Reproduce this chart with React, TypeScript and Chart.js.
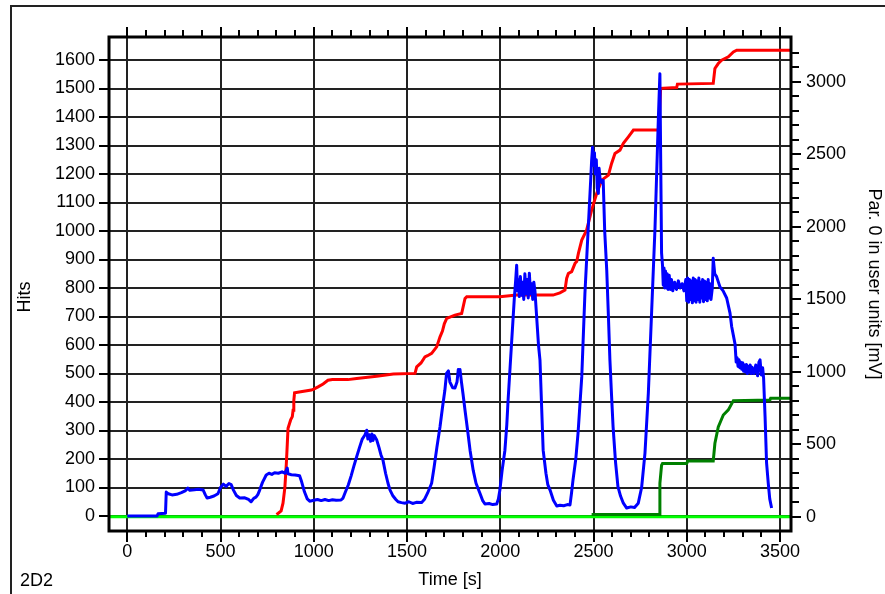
import React, { useEffect, useRef } from "react";
import { Chart, registerables } from "chart.js";

Chart.register(...registerables);

// ---------- data ----------
const blueTime = [
  0, 160, 165, 205, 209, 220, 240, 265, 290, 310, 325, 335, 360, 380, 407, 418, 428, 445, 465, 486,
  500, 515, 530, 545, 557, 570, 585, 603, 630, 650, 664, 678, 690, 700, 710, 725, 745, 760, 775, 790,
  810, 830, 845, 858, 862, 880, 900, 924, 935, 950, 965, 978, 1000, 1020, 1040, 1060, 1080, 1100, 1120, 1146,
  1157, 1170, 1185, 1200, 1215, 1230, 1245, 1260, 1275, 1284, 1290, 1298, 1305, 1312, 1318, 1325, 1337, 1350, 1360, 1371,
  1385, 1398, 1409, 1425, 1440, 1452, 1470, 1490, 1510, 1530, 1550, 1578, 1595, 1610, 1632, 1645, 1660, 1677, 1690, 1703,
  1712, 1722, 1730, 1745, 1757, 1768, 1775, 1780, 1784, 1792, 1800, 1811, 1825, 1838, 1855, 1870, 1891, 1905, 1918, 1940,
  1960, 1981, 1990, 1998, 2010, 2025, 2035, 2042, 2060, 2075, 2083, 2088, 2092, 2097, 2102, 2108, 2114, 2120, 2126, 2132,
  2138, 2145, 2150, 2156, 2162, 2168, 2174, 2180, 2186, 2195, 2205, 2213, 2222, 2230, 2245, 2255, 2267, 2285, 2303, 2320,
  2340, 2360, 2374, 2382, 2390, 2405, 2417, 2437, 2454, 2472, 2485, 2490, 2495, 2500, 2505, 2510, 2515, 2520, 2526, 2530,
  2535, 2545, 2552, 2560, 2571, 2580, 2588, 2597, 2605, 2618, 2631, 2645, 2660, 2678, 2700, 2720, 2740, 2758, 2776, 2794,
  2812, 2830, 2842, 2848, 2856, 2861, 2865, 2870, 2874, 2878, 2882, 2886, 2890, 2895, 2900, 2906, 2912, 2918, 2925, 2935,
  2945, 2955, 2965, 2975, 2985, 2995, 3000, 3005, 3010, 3015, 3020, 3025, 3030, 3035, 3040, 3045, 3050, 3055, 3060, 3065,
  3070, 3075, 3080, 3085, 3090, 3095, 3100, 3105, 3110, 3115, 3120, 3125, 3130, 3137, 3142, 3150, 3160, 3178, 3195, 3214,
  3232, 3241, 3259, 3265, 3270, 3275, 3280, 3285, 3290, 3295, 3300, 3305, 3310, 3315, 3320, 3325, 3330, 3335, 3340, 3345,
  3350, 3360, 3370, 3380, 3387, 3393, 3400, 3407, 3412, 3420, 3428, 3437, 3445, 3455,
];
const blueHits = [
  0, 0, 8, 10, 84, 78, 74, 76, 82, 88, 98, 90, 92, 94, 91, 75, 63, 66, 70, 78,
  100, 112, 104, 114, 110, 90, 72, 63, 64, 58, 50, 62, 66, 75, 91, 118, 144, 150, 146, 152,
  150, 155, 150, 168, 148, 145, 144, 141, 120, 85, 60, 52, 55, 58, 54, 58, 54, 57, 55, 56,
  63, 85, 109, 140, 175, 208, 240, 270, 285, 301, 270, 285, 262, 288, 265, 282, 268, 240, 215, 196,
  150, 115, 91, 70, 58, 50, 47, 45, 50, 44, 48, 47, 60, 80, 115, 170, 240, 313, 380, 441,
  500, 509, 470, 450, 449, 470, 514, 495, 514, 470, 430, 371, 300, 231, 160, 115, 80, 55, 42, 44,
  40, 42, 60, 91, 160, 231, 320, 407, 600, 760, 830, 880, 790, 830, 770, 840, 775, 820, 760, 850,
  780, 830, 765, 852, 780, 815, 760, 820, 790, 700, 600, 547, 380, 231, 150, 110, 91, 55, 35, 38,
  36, 40, 39, 80, 126, 200, 290, 488, 781, 1014, 1180, 1248, 1294, 1230, 1275, 1200, 1250, 1150, 1132, 1220,
  1185, 1170, 1178, 1000, 862, 700, 547, 420, 313, 190, 103, 70, 45, 28, 32, 30, 45, 100, 221, 431,
  722, 1014, 1272, 1400, 1552, 1200, 922, 880, 810, 870, 800, 860, 800, 850, 795, 845, 795, 830, 790, 820,
  795, 825, 800, 815, 790, 830, 755, 835, 750, 830, 760, 825, 748, 835, 755, 830, 750, 825, 760, 835,
  750, 820, 765, 830, 752, 825, 760, 820, 755, 830, 765, 815, 760, 800, 904, 850, 840, 804, 790, 765,
  712, 664, 603, 540, 555, 525, 548, 520, 540, 515, 538, 508, 530, 505, 532, 500, 525, 505, 530, 500,
  522, 500, 530, 492, 540, 548, 495, 520, 485, 348, 186, 115, 60, 28,
];

const redTime = [
  800, 808, 825, 835, 845, 853, 858, 862, 876, 885, 889, 893, 897, 930, 987, 1000, 1023, 1050, 1076, 1100,
  1183, 1230, 1337, 1427, 1543, 1552, 1575, 1596, 1610, 1632, 1659, 1677, 1690, 1700, 1713, 1757, 1793, 1811, 1820, 1998,
  2088, 2283, 2320, 2347, 2356, 2365, 2383, 2401, 2410, 2419, 2437, 2463, 2490, 2517, 2544, 2580, 2597, 2615, 2642, 2660,
  2687, 2714, 2850, 2860, 2946, 2950, 3142, 3151, 3169, 3187, 3223, 3250, 3268, 3560,
];
const redMv = [
  15, 22, 40, 93, 200, 367, 500, 609, 667, 690, 734, 800, 854, 861, 873, 880, 895, 915, 941, 945,
  945, 953, 969, 983, 988, 1033, 1060, 1102, 1110, 1126, 1171, 1240, 1280, 1330, 1367, 1390, 1401, 1505, 1516, 1516,
  1528, 1528, 1543, 1562, 1643, 1677, 1690, 1747, 1760, 1816, 1907, 1976, 2114, 2229, 2321, 2355, 2436, 2505, 2528, 2574,
  2619, 2666, 2666, 2954, 2960, 2983, 2988, 3091, 3125, 3148, 3171, 3205, 3217, 3217,
];

const greenTime = [2490, 2853, 2856, 2865, 2870, 3000, 3005, 3142, 3151, 3169, 3196, 3223, 3250, 3446, 3450, 3560];
const greenMv = [15, 15, 229, 355, 367, 367, 384, 384, 506, 619, 701, 736, 800, 805, 817, 817];

const baseTime = [-100, 3560];
const baseMv = [0, 0];

const xTickValues = [0, 500, 1000, 1500, 2000, 2500, 3000, 3500];
const leftTickValues = [0, 100, 200, 300, 400, 500, 600, 700, 800, 900, 1000, 1100, 1200, 1300, 1400, 1500, 1600];
const rightTickValues = [0, 500, 1000, 1500, 2000, 2500, 3000];

const toPoints = (xs: number[], ys: number[]) => xs.map((x, i) => ({ x, y: ys[i] }));

const FONT = "'Liberation Sans', Arial, sans-serif";

const decorPlugin = {
  id: "decor",
  beforeDraw(chart: any) {
    const { ctx, width, height } = chart;
    ctx.save();
    ctx.fillStyle = "#ffffff";
    ctx.fillRect(0, 0, width, height);
    ctx.strokeStyle = "#222";
    ctx.lineWidth = 2;
    ctx.beginPath();
    ctx.moveTo(11, height + 5);
    ctx.lineTo(11, 6);
    ctx.lineTo(width + 5, 6);
    ctx.stroke();
    ctx.restore();
  },
  afterDraw(chart: any) {
    const { ctx, chartArea: a, scales } = chart;
    ctx.save();
    ctx.strokeStyle = "#000";
    ctx.lineWidth = 2;
    ctx.beginPath();
    // left ticks
    for (const v of leftTickValues) {
      const y = Math.round(scales.y.getPixelForValue(v));
      ctx.moveTo(a.left - 10, y);
      ctx.lineTo(a.left, y);
    }
    // top / bottom ticks every 100
    for (let v = 0; v <= 3500; v += 100) {
      const x = Math.round(scales.x.getPixelForValue(v));
      const major = v % 500 === 0;
      ctx.moveTo(x, a.bottom);
      ctx.lineTo(x, a.bottom + (major ? 11 : 6));
      ctx.moveTo(x, a.top);
      ctx.lineTo(x, a.top - (major ? 10 : 7));
    }
    // right ticks every 100
    for (let v = 0; v <= 3200; v += 100) {
      const y = Math.round(scales.y1.getPixelForValue(v));
      const major = v % 500 === 0;
      ctx.moveTo(a.right, y);
      ctx.lineTo(a.right + (major ? 10 : 8), y);
    }
    ctx.stroke();
    // frame
    ctx.lineWidth = 3;
    ctx.strokeRect(a.left, a.top, a.right - a.left, a.bottom - a.top);
    // texts
    ctx.fillStyle = "#000";
    ctx.font = `18px ${FONT}`;
    ctx.textBaseline = "middle";
    ctx.textAlign = "left";
    ctx.fillText("2D2", 20, 581);
    // left axis title
    ctx.save();
    ctx.translate(25, 297);
    ctx.rotate(-Math.PI / 2);
    ctx.textAlign = "center";
    ctx.fillText("Hits", 0, 0);
    ctx.restore();
    ctx.restore();
  },
};

export default function App() {
  const ref = useRef<HTMLCanvasElement | null>(null);
  useEffect(() => {
    if (!ref.current) return;
    const tickFont = { family: FONT, size: 18 };
    const chart = new Chart(ref.current, {
      type: "line",
      data: {
        datasets: [
          {
            label: "Hits",
            data: toPoints(blueTime, blueHits),
            borderColor: "#0000ff",
            borderWidth: 3,
            pointRadius: 0,
            yAxisID: "y",
            borderJoinStyle: "round",
          },
          {
            label: "Par red",
            data: toPoints(redTime, redMv),
            borderColor: "#ff0000",
            borderWidth: 3,
            pointRadius: 0,
            yAxisID: "y1",
          },
          {
            label: "Par green",
            data: toPoints(greenTime, greenMv),
            borderColor: "#008000",
            borderWidth: 3,
            pointRadius: 0,
            yAxisID: "y1",
          },
          {
            label: "Par 0",
            data: toPoints(baseTime, baseMv),
            borderColor: "#00ff00",
            borderWidth: 3,
            pointRadius: 0,
            yAxisID: "y1",
          },
        ],
      },
      options: {
        animation: false,
        responsive: false,
        maintainAspectRatio: false,
        layout: { padding: { top: 37, left: 0, right: 0, bottom: 0 } },
        plugins: { legend: { display: false }, tooltip: { enabled: false } },
        elements: { line: { tension: 0 } },
        scales: {
          x: {
            type: "linear",
            position: "bottom",
            min: -98,
            max: 3559,
            afterBuildTicks: (s: any) => {
              s.ticks = xTickValues.map((v) => ({ value: v }));
            },
            afterFit: (s: any) => {
              s.height = 63;
            },
            ticks: {
              autoSkip: false,
              maxRotation: 0,
              padding: 10,
              color: "#000",
              font: tickFont,
              callback: (v: any) => String(v),
            },
            grid: { color: "#222", lineWidth: 2, drawTicks: false },
            border: { display: false },
            title: {
              display: true,
              text: "Time [s]",
              color: "#000",
              font: tickFont,
              padding: { top: 0, bottom: 3 },
            },
          },
          y: {
            type: "linear",
            position: "left",
            min: -52.6,
            max: 1680.7,
            afterBuildTicks: (s: any) => {
              s.ticks = leftTickValues.map((v) => ({ value: v }));
            },
            afterFit: (s: any) => {
              s.width = 109;
            },
            ticks: {
              autoSkip: false,
              padding: 14,
              color: "#000",
              font: tickFont,
              callback: (v: any) => String(v),
            },
            grid: { color: "#222", lineWidth: 2, drawTicks: false },
            border: { display: false },
            title: { display: false },
          },
          y1: {
            type: "linear",
            position: "right",
            min: -99,
            max: 3308,
            afterBuildTicks: (s: any) => {
              s.ticks = rightTickValues.map((v) => ({ value: v }));
            },
            afterFit: (s: any) => {
              s.width = 94;
            },
            ticks: {
              autoSkip: false,
              padding: 15,
              color: "#000",
              font: tickFont,
              callback: (v: any) => String(v),
            },
            grid: { display: false, drawTicks: false },
            border: { display: false },
            title: {
              display: true,
              text: "Par. 0 in user units [mV]",
              color: "#000",
              font: tickFont,
              padding: { top: 0, bottom: 0 },
            },
          },
        },
      },
      plugins: [decorPlugin],
    } as any);
    return () => chart.destroy();
  }, []);

  return (
    <div style={{ position: "fixed", left: 0, top: 0, width: 885, height: 594, background: "#fff" }}>
      <canvas ref={ref} width={885} height={594} style={{ display: "block" }} />
    </div>
  );
}
